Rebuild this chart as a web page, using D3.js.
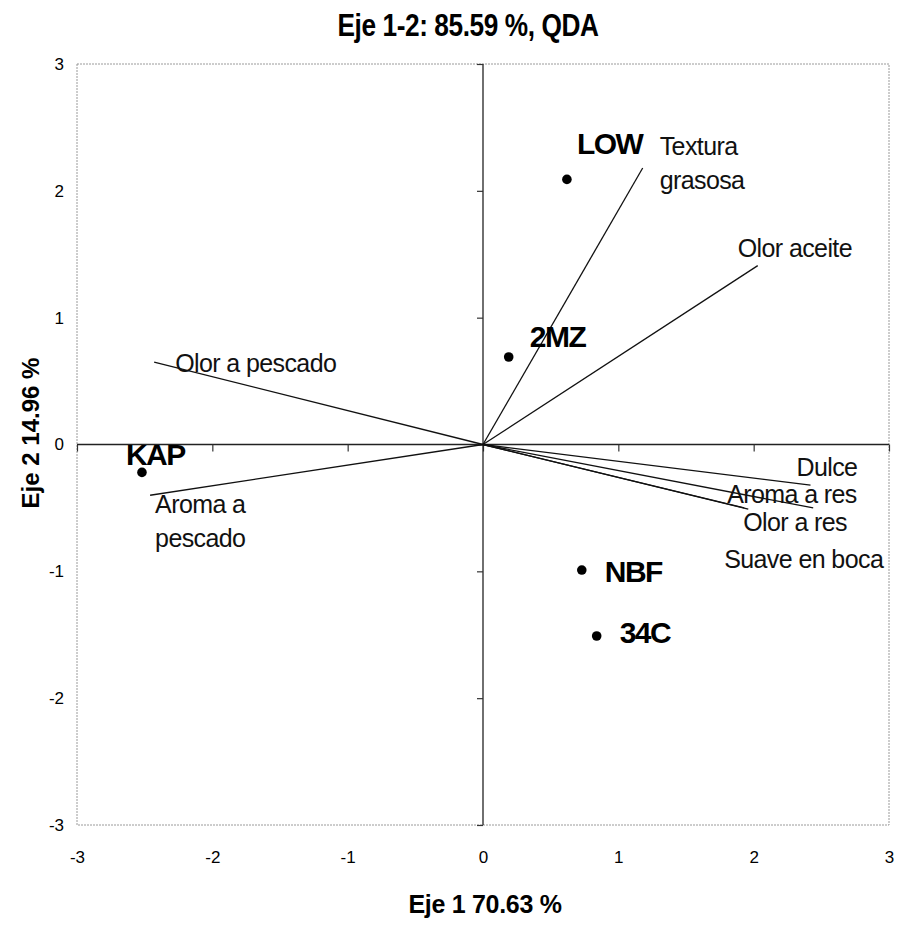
<!DOCTYPE html>
<html>
<head>
<meta charset="utf-8">
<script src="https://cdn.jsdelivr.net/npm/d3@7"></script>
<style>
  body { margin: 0; background: #fff; }
  svg { display: block; font-family: "Liberation Sans", Arial, sans-serif; }
</style>
</head>
<body>
<svg width="902" height="931"></svg>
<script>
// sample scores (Eje 1, Eje 2)
var sampleNames = ["LOW", "2MZ", "KAP", "NBF", "34C"];
var sampleX = [0.62, 0.19, -2.52, 0.73, 0.84];
var sampleY = [2.09, 0.69, -0.22, -0.99, -1.51];

// attribute vectors (loadings)
var vectorNames = ["Textura grasosa", "Olor aceite", "Olor a pescado", "Aroma a pescado",
  "Dulce", "Aroma a res", "Olor a res", "Suave en boca"];
var vectorX = [1.18, 2.03, -2.43, -2.46, 2.42, 2.44, 1.96, 1.93];
var vectorY = [2.18, 1.41, 0.65, -0.40, -0.32, -0.50, -0.51, -0.50];

var axisTicks = [-3, -2, -1, 0, 1, 2, 3];

var titleText = "Eje 1-2: 85.59 %, QDA";
var xTitleText = "Eje 1 70.63 %";
var yTitleText = "Eje 2 14.96 %";

// label placement (pixel offsets from the mark), kept apart from the data
var sampleLabelPos = {
  "LOW": [10, -25], "2MZ": [21, -10], "KAP": [-16, -7], "NBF": [23, 12], "34C": [23, 7]
};
var vectorLabelPos = {
  "Textura grasosa": [17, -13], "Olor aceite": [-20, -9], "Olor a pescado": [21, 10],
  "Aroma a pescado": [5, 18], "Dulce": [-14, -9], "Aroma a res": [-86, -5],
  "Olor a res": [-5, 22], "Suave en boca": [-20, 60]
};
var wrapAfter = { "Textura grasosa": 1, "Aroma a pescado": 2 };

var svg = d3.select("svg");

var x = d3.scaleLinear().domain([-3, 3]).range([77, 889]);
var y = d3.scaleLinear().domain([-3, 3]).range([825, 64]);

var plainInt = function(d) { return String(d); };

// dotted frame
svg.append("rect")
  .attr("x", x(-3))
  .attr("y", y(3))
  .attr("width", x(3) - x(-3))
  .attr("height", y(-3) - y(3))
  .attr("fill", "none")
  .attr("stroke", "#9a9a9a")
  .attr("stroke-width", 1)
  .attr("stroke-dasharray", "2,1");

// tick labels on the frame
var xLabels = svg.append("g")
  .attr("transform", "translate(0," + y(-3) + ")")
  .call(d3.axisBottom(x).tickValues(axisTicks).tickSize(0).tickPadding(26).tickFormat(plainInt));
var yLabels = svg.append("g")
  .attr("transform", "translate(" + x(-3) + ",0)")
  .call(d3.axisLeft(y).tickValues(axisTicks).tickSize(0).tickPadding(13).tickFormat(plainInt));
[xLabels, yLabels].forEach(function(g) {
  g.select(".domain").remove();
  g.selectAll("text")
    .style("font-family", "'Liberation Sans', Arial, sans-serif")
    .style("font-size", "17px")
    .attr("fill", "#000");
});

// axes through the origin, small ticks
var xZero = svg.append("g")
  .attr("transform", "translate(0," + y(0) + ")")
  .call(d3.axisBottom(x).tickValues(axisTicks).tickSize(7).tickFormat(""));
var yZero = svg.append("g")
  .attr("transform", "translate(" + x(0) + ",0)")
  .call(d3.axisLeft(y).tickValues(axisTicks).tickSize(6).tickFormat(""));
[xZero, yZero].forEach(function(g) {
  g.select(".domain").attr("stroke", "#222").attr("stroke-width", 1.3);
  g.selectAll(".tick line").attr("stroke", "#333").attr("stroke-width", 1.2);
});
xZero.select(".domain").attr("d", "M" + x(-3) + ",0H" + x(3));
yZero.select(".domain").attr("d", "M0," + y(-3) + "V" + y(3));

// vectors
var vectors = vectorNames.map(function(n, i) {
  return { name: n, vx: vectorX[i], vy: vectorY[i] };
});

svg.append("g").selectAll("line")
  .data(vectors)
  .enter().append("line")
  .attr("x1", x(0))
  .attr("y1", y(0))
  .attr("x2", function(d) { return x(d.vx); })
  .attr("y2", function(d) { return y(d.vy); })
  .attr("stroke", "#111")
  .attr("stroke-width", 1.3);

var vLabels = svg.append("g").selectAll("text")
  .data(vectors)
  .enter().append("text")
  .attr("x", function(d) { return x(d.vx) + vectorLabelPos[d.name][0]; })
  .attr("y", function(d) { return y(d.vy) + vectorLabelPos[d.name][1]; })
  .style("font-size", "25px")
  .style("letter-spacing", "-0.6px")
  .attr("fill", "#111");

vLabels.each(function(d) {
  let t = d3.select(this);
  let words = d.name.split(" ");
  let k = wrapAfter[d.name];
  if (k) {
    t.append("tspan").attr("x", t.attr("x")).text(words.slice(0, k).join(" "));
    t.append("tspan").attr("x", t.attr("x")).attr("dy", 34).text(words.slice(k).join(" "));
  }
  else {
    t.text(d.name);
  }
});

// samples
var samples = sampleNames.map(function(n, i) {
  return { name: n, sx: sampleX[i], sy: sampleY[i] };
});

svg.append("g").selectAll("circle")
  .data(samples)
  .enter().append("circle")
  .attr("cx", function(d) { return x(d.sx); })
  .attr("cy", function(d) { return y(d.sy); })
  .attr("r", 4.8)
  .attr("fill", "#000");

svg.append("g").selectAll("text")
  .data(samples)
  .enter().append("text")
  .attr("x", function(d) { return x(d.sx) + sampleLabelPos[d.name][0]; })
  .attr("y", function(d) { return y(d.sy) + sampleLabelPos[d.name][1]; })
  .style("font-size", "30px")
  .style("font-weight", "bold")
  .style("letter-spacing", "-1.5px")
  .attr("fill", "#000")
  .text(function(d) { return d.name; });

// titles
svg.append("text")
  .attr("transform", "translate(468,36) scale(0.82,1)")
  .style("text-anchor", "middle")
  .style("font-size", "32px")
  .style("font-weight", "bold")
  .style("letter-spacing", "-0.5px")
  .text(titleText);

svg.append("text")
  .attr("x", 485)
  .attr("y", 913)
  .style("text-anchor", "middle")
  .style("font-size", "25px")
  .style("font-weight", "bold")
  .style("letter-spacing", "-0.3px")
  .text(xTitleText);

svg.append("text")
  .attr("transform", "translate(39,433) rotate(-90)")
  .style("text-anchor", "middle")
  .style("font-size", "24px")
  .style("font-weight", "bold")
  .text(yTitleText);
</script>
</body>
</html>
